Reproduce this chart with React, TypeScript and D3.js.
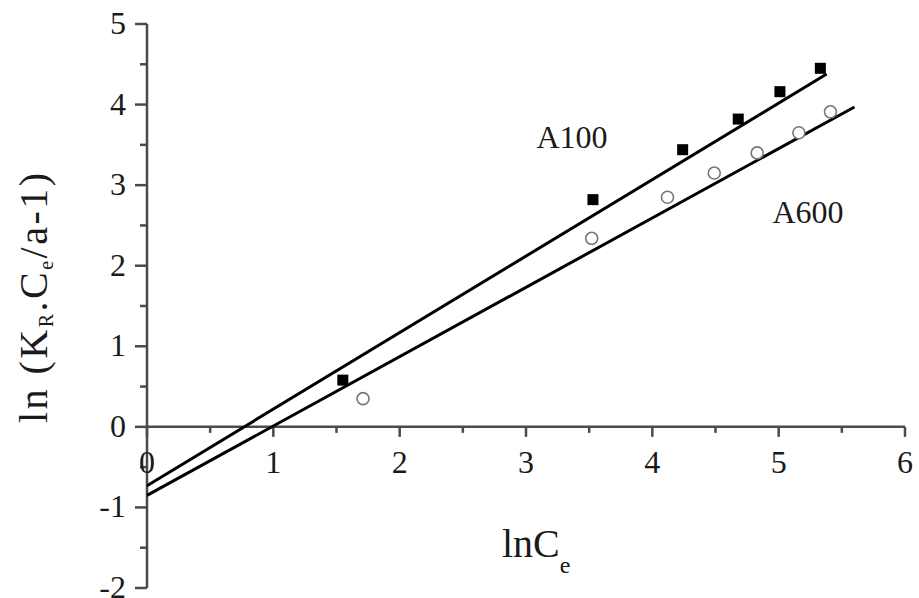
import React from 'react';
import * as d3 from 'd3';

const xTicks = [0, 1, 2, 3, 4, 5, 6];
const xMinor = [0.5, 1.5, 2.5, 3.5, 4.5, 5.5];
const yTicks = [-2, -1, 0, 1, 2, 3, 4, 5];
const yMinor = [-1.5, -0.5, 0.5, 1.5, 2.5, 3.5, 4.5];

const a100X = [1.55, 3.53, 4.24, 4.68, 5.01, 5.33];
const a100Y = [0.58, 2.82, 3.44, 3.82, 4.16, 4.45];
const a600X = [1.71, 3.52, 4.12, 4.49, 4.83, 5.16, 5.41];
const a600Y = [0.35, 2.34, 2.85, 3.15, 3.4, 3.65, 3.91];

const a100FitX = [0, 5.38];
const a100FitY = [-0.73, 4.38];
const a600FitX = [0, 5.6];
const a600FitY = [-0.85, 3.97];

const FONT = '"Liberation Serif", "Times New Roman", serif';

export default function App() {
  const x = d3.scaleLinear().domain([0, 6]).range([147, 905]);
  const y = d3.scaleLinear().domain([-2, 5]).range([588, 24]);
  const line = d3
    .line<[number, number]>()
    .x((d) => x(d[0]))
    .y((d) => y(d[1]));
  const fit100 = a100FitX.map((v, i) => [v, a100FitY[i]] as [number, number]);
  const fit600 = a600FitX.map((v, i) => [v, a600FitY[i]] as [number, number]);
  const axisColor = '#4a4a4a';
  const textColor = '#1a1a1a';
  const sq = 11;

  return (
    <svg
      width={919}
      height={598}
      style={{ position: 'absolute', left: 0, top: 0, background: '#fff' }}
      fontFamily={FONT}
    >
      <rect x={0} y={0} width={919} height={598} fill="#fff" />
      {/* y axis */}
      <line x1={x(0)} x2={x(0)} y1={y(-2)} y2={y(5)} stroke={axisColor} strokeWidth={2.5} />
      {yTicks.map((t) => (
        <g key={'yt' + t}>
          <line x1={x(0) - 12} x2={x(0)} y1={y(t)} y2={y(t)} stroke={axisColor} strokeWidth={2.5} />
          <text x={126} y={y(t) + 10} textAnchor="end" fontSize={32} fill={textColor}>
            {t}
          </text>
        </g>
      ))}
      {yMinor.map((t) => (
        <line key={'ym' + t} x1={x(0) - 7} x2={x(0)} y1={y(t)} y2={y(t)} stroke={axisColor} strokeWidth={2.5} />
      ))}
      {/* x axis at y=0 */}
      <line x1={x(0)} x2={x(6)} y1={y(0)} y2={y(0)} stroke={axisColor} strokeWidth={2.5} />
      {xTicks.map((t) => (
        <g key={'xt' + t}>
          <line x1={x(t)} x2={x(t)} y1={y(0)} y2={y(0) + 10} stroke={axisColor} strokeWidth={2.5} />
          <text x={x(t)} y={y(0) + 46} textAnchor="middle" fontSize={32} fill={textColor}>
            {t}
          </text>
        </g>
      ))}
      {xMinor.map((t) => (
        <line key={'xm' + t} x1={x(t)} x2={x(t)} y1={y(0)} y2={y(0) + 6} stroke={axisColor} strokeWidth={2.5} />
      ))}
      {/* fit lines */}
      <path d={line(fit100) || ''} fill="none" stroke="#000" strokeWidth={3} />
      <path d={line(fit600) || ''} fill="none" stroke="#000" strokeWidth={3} />
      {/* points */}
      {a100X.map((v, i) => (
        <rect key={'s' + i} x={x(v) - sq / 2} y={y(a100Y[i]) - sq / 2} width={sq} height={sq} fill="#000" />
      ))}
      {a600X.map((v, i) => (
        <circle key={'c' + i} cx={x(v)} cy={y(a600Y[i])} r={6} fill="#fff" stroke="#777" strokeWidth={1.6} />
      ))}
      {/* series labels */}
      <text x={572} y={148} textAnchor="middle" fontSize={32} fill={textColor}>
        A100
      </text>
      <text x={808} y={223} textAnchor="middle" fontSize={32} fill={textColor}>
        A600
      </text>
      {/* x title */}
      <text x={502} y={557} fontSize={40} fill={textColor}>
        lnC<tspan fontSize={24} dy={16}>e</tspan>
      </text>
      {/* y title */}
      <text
        transform="translate(47,423) rotate(-90)"
        fontSize={40}
        fill={textColor}
        textLength={250}
        lengthAdjust="spacing"
      >
        ln (K<tspan fontSize={20} dy={6}>R</tspan>
        <tspan dy={-6}>.C</tspan>
        <tspan fontSize={20} dy={6}>e</tspan>
        <tspan dy={-6}>/a-1)</tspan>
      </text>
    </svg>
  );
}
